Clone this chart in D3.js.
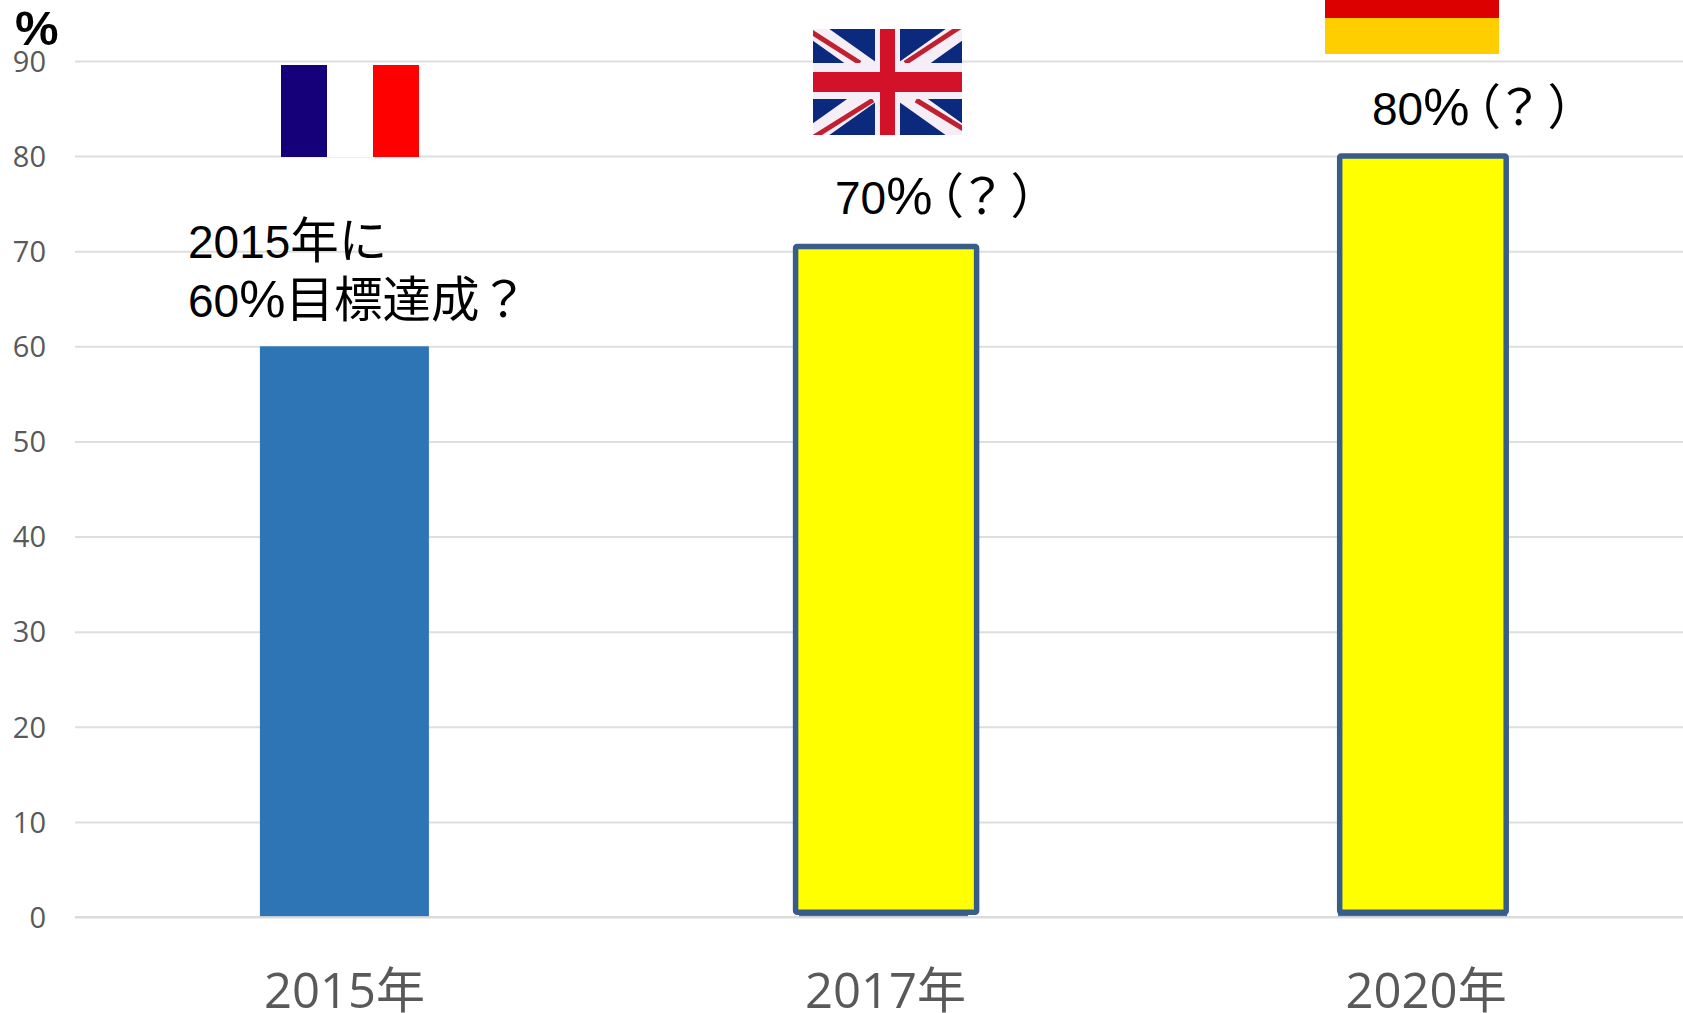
<!DOCTYPE html>
<html lang="ja">
<head>
<meta charset="utf-8">
<script src="https://cdn.jsdelivr.net/npm/d3@7"></script>
<style>
html,body{margin:0;padding:0;background:#fff;overflow:hidden}
svg{display:block}
.note{font-family:"Liberation Sans","Noto Sans CJK JP",sans-serif;fill:#000}
</style>
</head>
<body>
<svg id="chart" width="1683" height="1013"></svg>
<script>
const categories = ["2015年", "2017年", "2020年"];
const baseValues = [60, 70, 80];
const outlinedTops = [null, 70.5, 80.0];
const outlinedBottoms = [null, 0.5, 0.5];
const outlinedInset = [null, [-3.4, -8.6], [1.6, 0.9]];
const labelShift = [0, 2, 3.5];
const yTicks = [0, 10, 20, 30, 40, 50, 60, 70, 80, 90];
const noteLines = [
  {text: "2015年に", x: 188, y: 258},
  {text: "60%目標達成？", x: 188, y: 317},
  {text: "70%（？）", x: 835, y: 214},
  {text: "80%（？）", x: 1372, y: 125}
];

const svg = d3.select("#chart");
const x = d3.scaleBand().domain(categories).range([75, 1692]).paddingInner(0.6865).paddingOuter(0.343);
const y = d3.scaleLinear().domain([0, 90]).range([917, 61]);

// y axis and gridlines
const yAxis = d3.axisLeft(y).tickValues(yTicks).tickSize(0).tickPadding(30);
const gy = svg.append("g").attr("transform", "translate(75,0)").call(yAxis);
gy.select(".domain").remove();
gy.selectAll("text").attr("font-size", 29).attr("fill", "#595959")
  .attr("font-family", "'Open Sans',sans-serif").attr("x", -29).attr("y", 1);
gy.selectAll(".tick").append("line").attr("x1", 0).attr("x2", 1608)
  .attr("stroke", "#dedede").attr("stroke-width", 2);

// base bars
svg.append("g").selectAll("rect").data(categories).join("rect")
  .attr("x", d => x(d)).attr("width", x.bandwidth())
  .attr("y", (d, i) => y(baseValues[i])).attr("height", (d, i) => y(0) - y(baseValues[i]))
  .attr("fill", "#2e75b6");

// baseline stays visible over the bars
svg.append("line").attr("x1", 75).attr("x2", 1683).attr("y1", y(0)).attr("y2", y(0))
  .attr("stroke", "#d9d9d9").attr("stroke-opacity", 0.85).attr("stroke-width", 2);

// outlined yellow shapes on top of the later bars
const outlined = categories.map((d, i) => ({d, i})).filter(o => outlinedTops[o.i] !== null);
svg.append("g").selectAll("rect").data(outlined).join("rect")
  .attr("x", o => x(o.d) + outlinedInset[o.i][0])
  .attr("width", o => x.bandwidth() - outlinedInset[o.i][0] - outlinedInset[o.i][1])
  .attr("y", o => y(outlinedTops[o.i]))
  .attr("height", o => y(outlinedBottoms[o.i]) - y(outlinedTops[o.i]))
  .attr("fill", "#ffff00").attr("stroke", "#385d8a").attr("stroke-width", 5.5).attr("rx", 1.5);

// x axis labels
const xAxis = d3.axisBottom(x).tickSize(0).tickPadding(0);
const gx = svg.append("g").attr("transform", "translate(0,917)").call(xAxis);
gx.select(".domain").remove();
gx.selectAll("text")
  .attr("font-family", "'Open Sans','Noto Sans CJK JP',sans-serif")
  .attr("font-size", 49).attr("fill", "#595959")
  .attr("dy", null).attr("y", 91).attr("x", (d, i) => labelShift[i]);

// unit
svg.append("text").text("%").attr("x", 15).attr("y", 45)
  .attr("font-family", "'Liberation Sans',sans-serif").attr("font-weight", "bold")
  .attr("font-size", 49).attr("fill", "#000");

// annotations: digits, percent sign and full-width glyphs are sized separately
const runSize = r => /^[0-9]+$/.test(r) ? 46 : r === "%" ? 52 : 48.5;
const runShift = {"（": -17, "？": -6, "）": 4};
svg.append("g").selectAll("text").data(noteLines).join("text")
  .attr("class", "note").attr("x", d => d.x).attr("y", d => d.y)
  .selectAll("tspan").data(d => {
    const runs = d.text.match(/[0-9]+|%|（|？|）|[^0-9%（？）]+/g);
    const paren = runs.includes("（");
    return runs.map(r => ({r, dx: paren ? (runShift[r] || 0) : 0}));
  }).join("tspan")
  .attr("font-size", e => runSize(e.r)).attr("dx", e => e.dx).text(e => e.r);

// France flag
const fr = svg.append("g");
fr.append("rect").attr("x", 281).attr("y", 65).attr("width", 46).attr("height", 92).attr("fill", "#16007a");
fr.append("rect").attr("x", 327).attr("y", 65).attr("width", 46).attr("height", 92).attr("fill", "#ffffff");
fr.append("rect").attr("x", 373).attr("y", 65).attr("width", 46).attr("height", 92).attr("fill", "#ff0000");

// UK flag
const defs = svg.append("defs");
defs.append("clipPath").attr("id", "ukclip").append("rect").attr("width", 149).attr("height", 106);
const uk = svg.append("g").attr("transform", "translate(813,29)").attr("clip-path", "url(#ukclip)");
uk.append("rect").attr("width", 149).attr("height", 106).attr("fill", "#0b2a7d");
uk.append("path").attr("d", "M0,0L149,106M149,0L0,106").attr("stroke", "#f6eef6").attr("stroke-width", 19);
uk.append("path").attr("d", "M-3,2L47,34M147,-2L92,34M1,108L60,71M103,71L152,101")
  .attr("stroke", "#c0202f").attr("stroke-width", 5);
uk.append("rect").attr("x", 62).attr("width", 25).attr("height", 106).attr("fill", "#f6eef6");
uk.append("rect").attr("y", 34).attr("width", 149).attr("height", 36).attr("fill", "#f6eef6");
uk.append("rect").attr("x", 67).attr("width", 15).attr("height", 106).attr("fill", "#d3122a");
uk.append("rect").attr("y", 43).attr("width", 149).attr("height", 20).attr("fill", "#d3122a");

// Germany flag (top stripes cropped by the page)
const de = svg.append("g");
de.append("rect").attr("x", 1325).attr("y", 0).attr("width", 174).attr("height", 18).attr("fill", "#dd0000");
de.append("rect").attr("x", 1325).attr("y", 18).attr("width", 174).attr("height", 36).attr("fill", "#ffce00");
</script>
</body>
</html>
